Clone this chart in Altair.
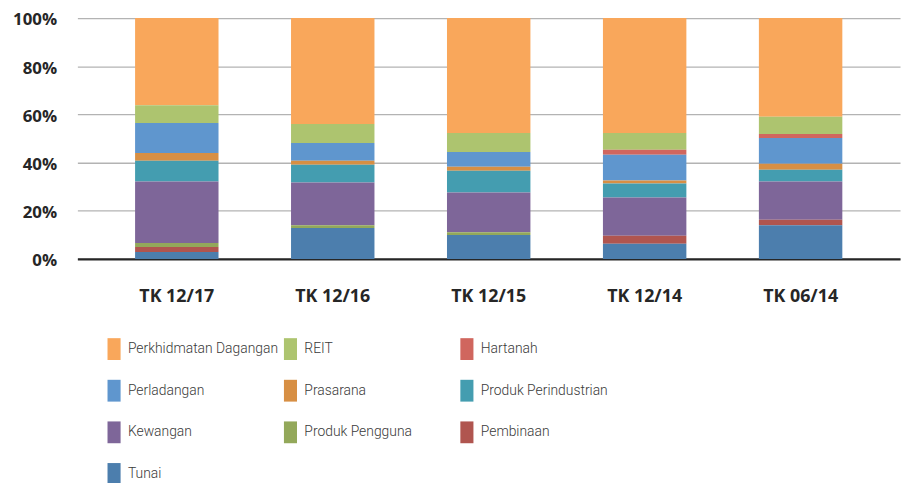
import altair as alt
import pandas as pd

periods = ["TK 12/17", "TK 12/16", "TK 12/15", "TK 12/14", "TK 06/14"]
sectors = ["Perkhidmatan Dagangan", "REIT", "Hartanah", "Perladangan", "Prasarana",
           "Produk Perindustrian", "Kewangan", "Produk Pengguna", "Pembinaan", "Tunai"]
colors = ["#F9A75B", "#ADC46F", "#D0665E", "#5F96CE", "#D78F44",
          "#449DB0", "#7E6699", "#93A85A", "#B0554F", "#4C7EAD"]

perkhidmatan = [36.2, 44.0, 47.7, 47.7, 41.0]
reit = [7.4, 7.9, 7.9, 7.0, 7.1]
hartanah = [0.0, 0.0, 0.0, 2.1, 1.7]
perladangan = [12.4, 7.4, 6.1, 10.7, 10.7]
prasarana = [3.3, 1.6, 1.7, 1.2, 2.5]
perindustrian = [8.6, 7.4, 9.0, 5.8, 4.9]
kewangan = [25.5, 17.7, 16.5, 15.9, 15.9]
pengguna = [1.7, 1.2, 1.2, 0.0, 0.0]
pembinaan = [2.0, 0.0, 0.0, 3.3, 2.2]
tunai = [2.9, 12.8, 9.9, 6.3, 14.0]

series = [perkhidmatan, reit, hartanah, perladangan, prasarana,
          perindustrian, kewangan, pengguna, pembinaan, tunai]

rows = []
for si, (name, vals) in enumerate(zip(sectors, series)):
    for pi, p in enumerate(periods):
        rows.append({"period": p, "sector": name, "idx": si, "value": vals[pi]})
df = pd.DataFrame(rows)

chart = alt.Chart(df).mark_bar().encode(
    x=alt.X("period:N", sort=periods, title=None,
            scale=alt.Scale(paddingInner=0.465, paddingOuter=0.37),
            axis=alt.Axis(labelAngle=0, labelFont="Open Sans", labelFontWeight="bold",
                          labelFontSize=18, labelColor="#262626", labelPadding=29,
                          ticks=False, domainColor="#262626", domainWidth=2.5, grid=False)),
    y=alt.Y("value:Q", stack="normalize", title=None,
            scale=alt.Scale(domain=[0, 1], nice=False),
            axis=alt.Axis(format=".0%", values=[0, 0.2, 0.4, 0.6, 0.8, 1.0],
                          labelFont="Open Sans", labelFontWeight="bold", labelFontSize=17,
                          labelOffset=2,
                          labelColor="#262626", labelPadding=21, ticks=False, domain=False,
                          gridColor="#B3B3B3", gridWidth=1.3)),
    color=alt.Color("sector:N", title=None,
                    scale=alt.Scale(domain=sectors, range=colors),
                    legend=alt.Legend(orient="none", legendX=26, legendY=323, columns=3,
                                      direction="horizontal",
                                      gridAlign="all", columnPadding=1, rowPadding=20,
                                      symbolType="M-0.6,-1H0.6V1H-0.6Z",
                                      symbolSize=484, symbolStrokeWidth=0,
                                      labelFont="Roboto", labelFontWeight=300,
                                      labelFontSize=14, labelColor="#3A3A3A",
                                      labelOffset=3, labelLimit=300)),
    order=alt.Order("idx:Q", sort="descending"),
).properties(
    width=830, height=243,
    autosize=alt.AutoSizeParams(type="none"),
    padding={"left": 70, "top": 8, "right": 3, "bottom": 224},
).configure_view(stroke=None)

chart.save("out.html", embed_options={"renderer": "svg", "actions": False})
